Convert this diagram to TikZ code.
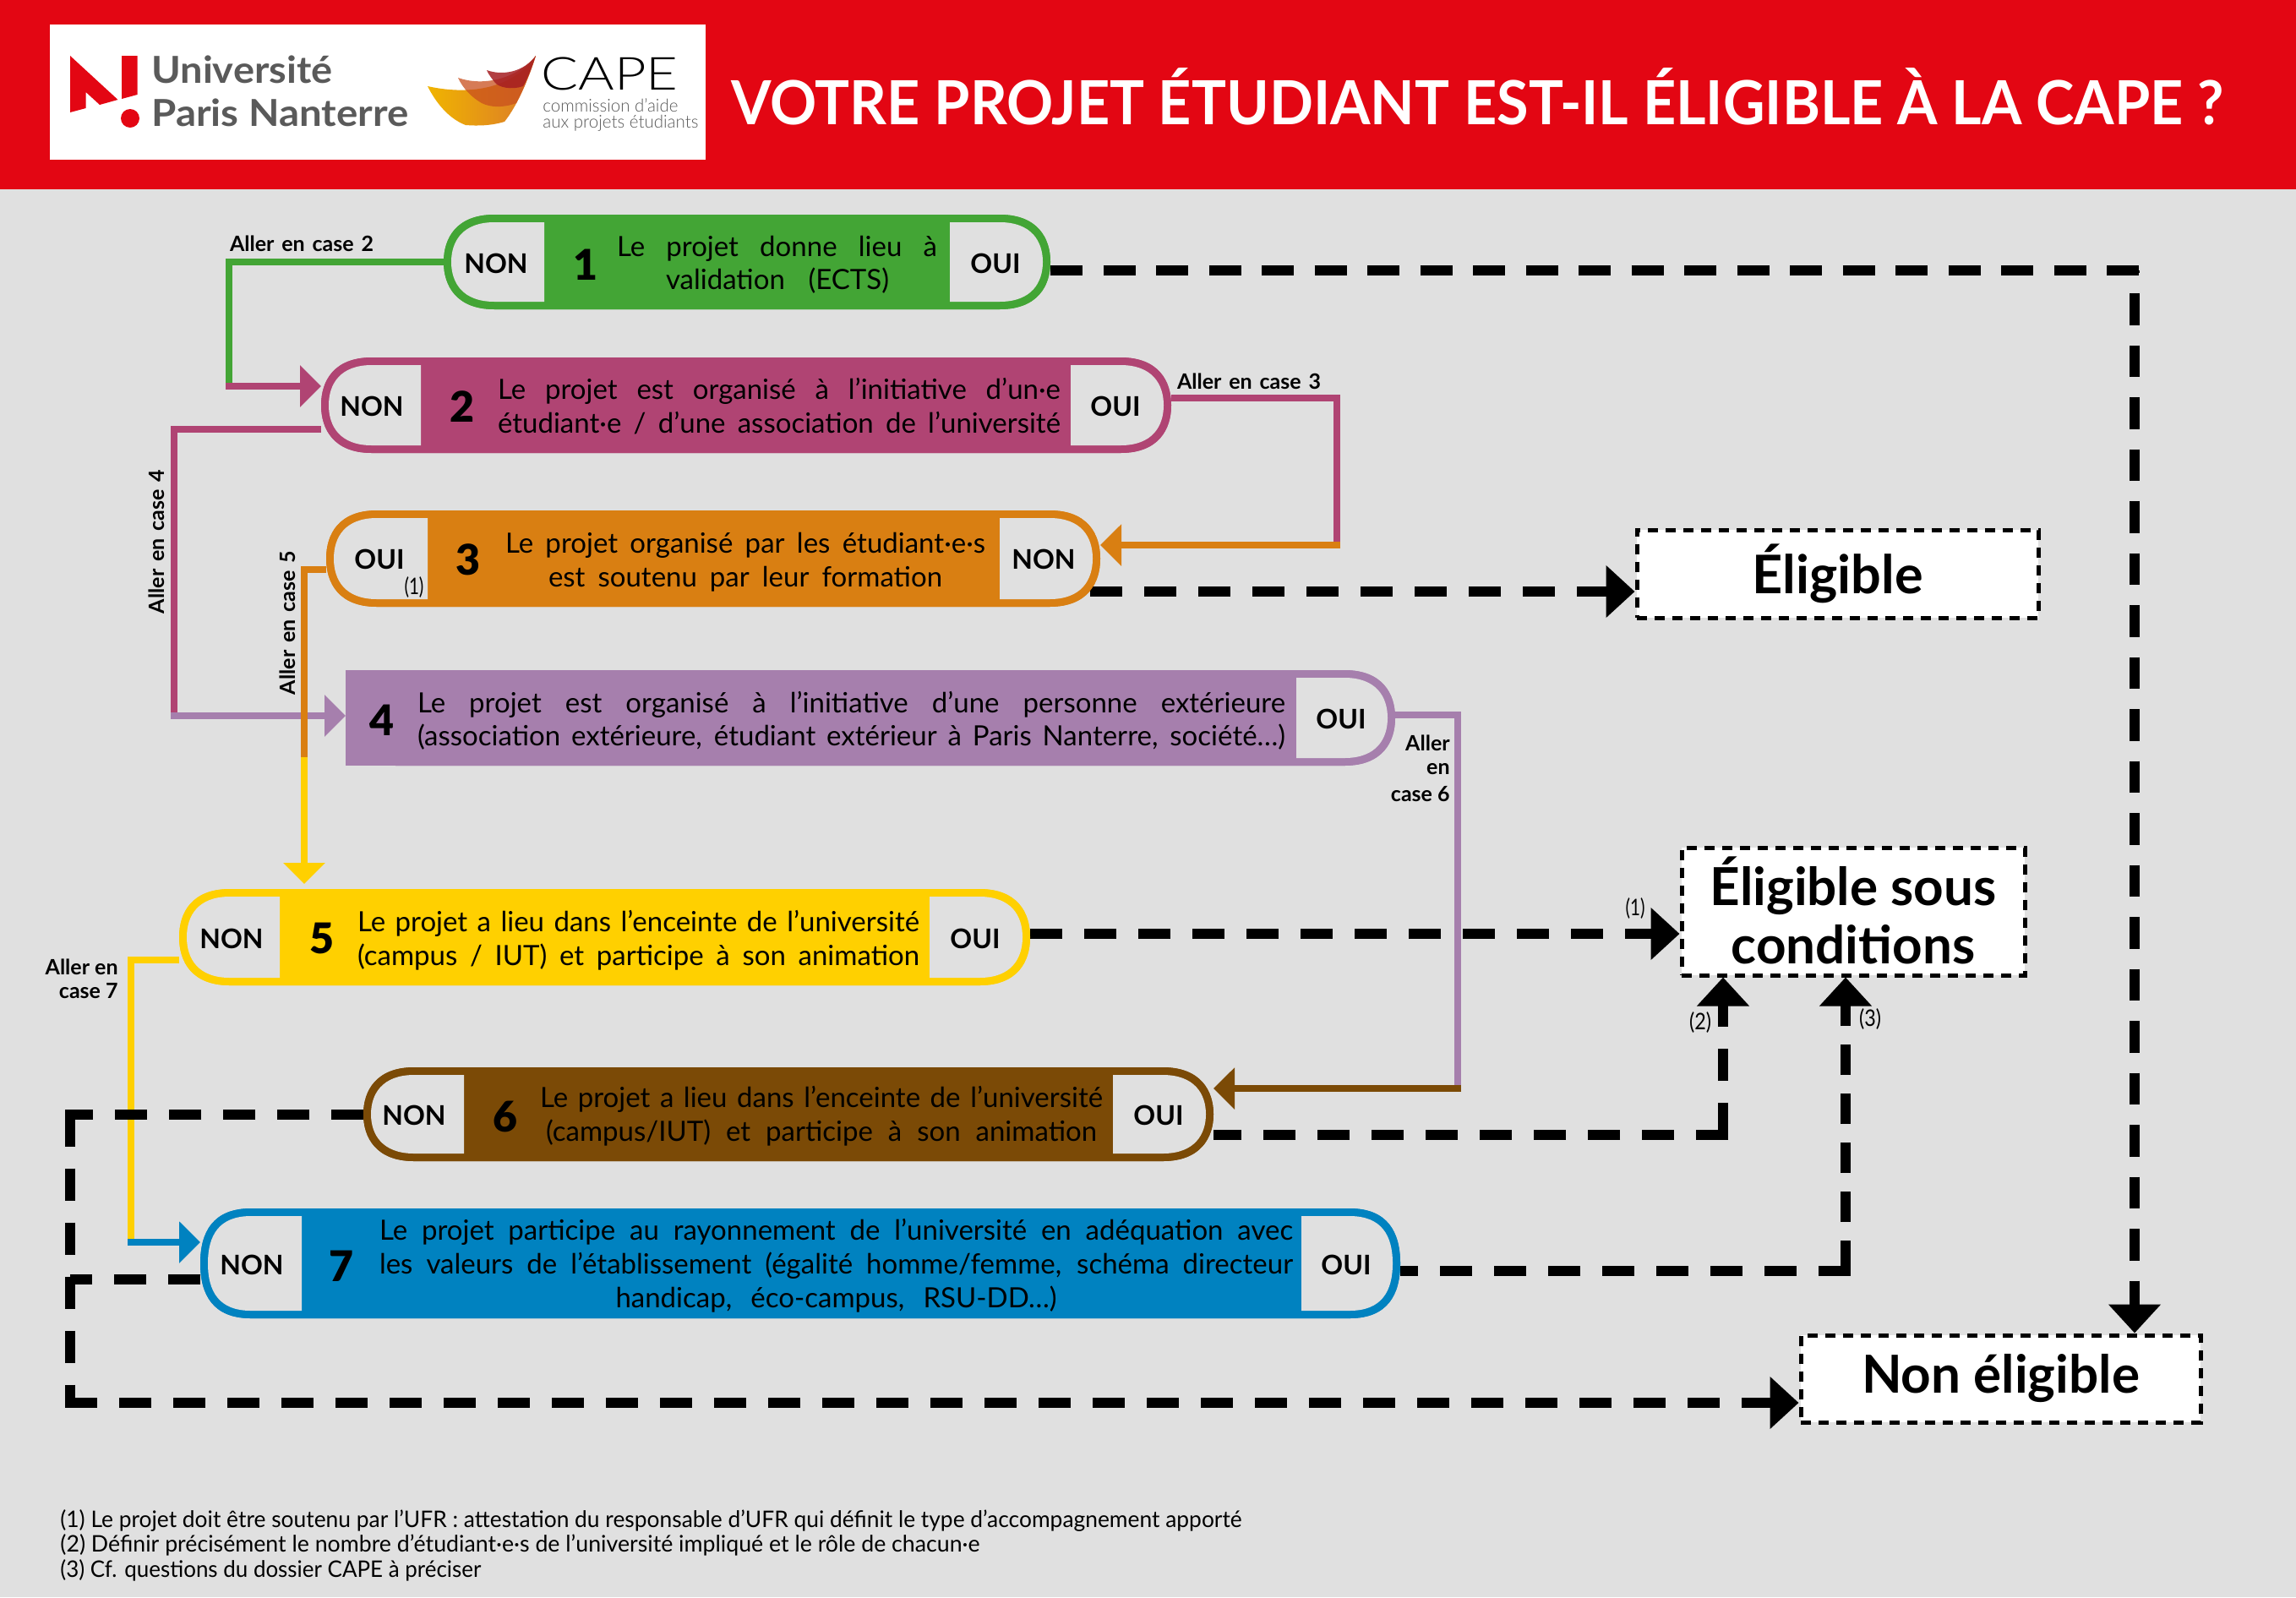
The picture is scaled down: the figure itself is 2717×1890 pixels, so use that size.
\documentclass[tikz,border=0pt]{standalone}
\usepackage{fontspec}
\setmainfont{Lato}
\newfontfamily\lightf{Lato Light}
\newfontfamily\blackf{Lato Black}
\usetikzlibrary{arrows.meta,calc}
\definecolor{bgc}{HTML}{E0E0E0}
\definecolor{redc}{HTML}{E30613}
\definecolor{gre}{HTML}{43A535}
\definecolor{mag}{HTML}{B04473}
\definecolor{ora}{HTML}{D97F12}
\definecolor{pur}{HTML}{A67FAD}
\definecolor{yel}{HTML}{FFD000}
\definecolor{bro}{HTML}{7B4A06}
\definecolor{blu}{HTML}{0082C0}
\definecolor{gry}{HTML}{5A5A5A}
\definecolor{sail1a}{HTML}{F0B400}
\definecolor{sail1b}{HTML}{DB7A2A}
\definecolor{sail2}{HTML}{C9501E}
\definecolor{sail3}{HTML}{A51E22}
\newsavebox\fitb
\newcommand\jl[2]{\sbox\fitb{#2}\ifdim\wd\fitb>#1pt\resizebox{#1pt}{\height}{\usebox\fitb}\else\makebox[#1pt][s]{#2}\fi}
\newcommand\wl[2]{\resizebox{#1pt}{\height}{#2}}
\newcommand\fz[1]{\fontsize{#1}{#1}\selectfont}
% capsule body: name, L, R, T, B, colour
\newcommand\capsbody[6]{%
  \node[inner sep=0,outer sep=0,minimum width={(#3-#2)*0.5pt},minimum height={(#5-#4)*0.5pt}] (#1) at ({(#2+#3)/2},{(#4+#5)/2}) {};
  \fill[#6] (#2+60,#4) -- (#3-60,#4) .. controls (#3-15,#4) and (#3,#4+28) .. (#3,{(#4+#5)/2}) .. controls (#3,#5-28) and (#3-15,#5) .. (#3-60,#5) -- (#2+60,#5) .. controls (#2+15,#5) and (#2,#5-28) .. (#2,{(#4+#5)/2}) .. controls (#2,#4+28) and (#2+15,#4) .. (#2+60,#4) -- cycle;}
% left panel: L, panel right, T, B
\newcommand\panL[4]{\fill[bgc] (#2,#3+9) -- (#1+60,#3+9) .. controls (#1+22,#3+9) and (#1+9,#3+32) .. (#1+9,{(#3+#4)/2}) .. controls (#1+9,#4-32) and (#1+22,#4-9) .. (#1+60,#4-9) -- (#2,#4-9) -- cycle;}
% right panel: panel left, R, T, B
\newcommand\panR[4]{\fill[bgc] (#1,#3+9) -- (#2-60,#3+9) .. controls (#2-22,#3+9) and (#2-9,#3+32) .. (#2-9,{(#3+#4)/2}) .. controls (#2-9,#4-32) and (#2-22,#4-9) .. (#2-60,#4-9) -- (#1,#4-9) -- cycle;}
\tikzset{
  x=0.5pt,y=-0.5pt,
  conn/.style={line width=4pt,draw=#1},
  carrow/.style={line width=4pt,draw=#1,-{Triangle[length=12.5pt,width=24pt]}},
  dashline/.style={line width=6pt,draw=black,dash pattern=on 19pt off 13pt},
  dashtail/.style={line width=6pt,draw=black,dash pattern=on 19pt off 12.25pt},
  darrow/.style={dashline,-{Triangle[length=17pt,width=30pt]}},
  tx/.style={anchor=base,inner sep=0,font=\fz{16.5}},
  yn/.style={anchor=base,inner sep=0,font=\fz{16}\bfseries},
  num/.style={anchor=base,inner sep=0,font=\fz{25}\blackf},
  lab/.style={inner sep=0,font=\fz{12.5}\bfseries},
  ref/.style={inner sep=0,font=\fz{13.5}},
  result/.style={draw=black,fill=white,line width=2.5pt,dash pattern=on 6pt off 4.5pt,inner sep=0,align=center,font=\fz{31}\bfseries},
  foot/.style={anchor=base west,inner sep=0,font=\fz{13.5}},
}
\begin{document}
\begin{tikzpicture}
\useasboundingbox (0,0) rectangle (2717,1890);
\fill[bgc] (0,0) rectangle (2717,1890);
\fill[redc] (0,0) rectangle (2717,224);
\fill[white] (59,29) rectangle (835,189);
% Nanterre logo
\fill[redc] (83,66) -- (139.5,118) -- (118,124) -- (101.6,109) -- (101.6,128) -- (83,133) -- cycle;
\fill[redc] (144,66) -- (162.5,66) -- (162.5,112) -- (144,117) -- cycle;
\fill[redc] (154,140) circle[radius=11];
\node[anchor=base west,inner sep=0,text=gry,font=\fz{22}\bfseries] (u1) at (179,98) {\wl{107}{Université}};
\node[anchor=base west,inner sep=0,text=gry,font=\fz{22}\bfseries] (u2) at (179,149) {\wl{152}{Paris Nanterre}};
% CAPE logo
\shade[left color=sail1a,right color=sail1b] (506,102) .. controls (550,112) and (605,108) .. (634,66) .. controls (625,95) and (612,125) .. (597,144) .. controls (580,149) and (565,149) .. (551,148) .. controls (530,140) and (515,120) .. (506,102) -- cycle;
\fill[sail2,opacity=.75] (542,92) .. controls (570,102) and (610,95) .. (634,66) .. controls (628,85) and (620,105) .. (611,122) .. controls (595,128) and (580,127) .. (570,122) .. controls (558,115) and (548,105) .. (542,92) -- cycle;
\fill[sail3,opacity=.85] (576,83) .. controls (595,90) and (620,85) .. (634,66) .. controls (630,78) and (625,92) .. (619,102) .. controls (605,107) and (590,103) .. (586,98) .. controls (582,93) and (578,88) .. (576,83) -- cycle;
\node[anchor=base west,inner sep=0,font=\fz{27}\lightf] (c1) at (640,106) {\wl{81}{CAPE}};
\node[anchor=base west,inner sep=0,text=gry,font=\fz{10.5}\lightf] (c2) at (642,132) {\jl{80}{commission d’aide}};
\node[anchor=base west,inner sep=0,text=gry,font=\fz{10.5}\lightf] (c3) at (642,151) {\jl{92}{aux projets étudiants}};
\node[anchor=base west,inner sep=0,text=white,font=\fz{36}\bfseries] (title) at (865,147) {\jl{883}{VOTRE PROJET ÉTUDIANT EST-IL ÉLIGIBLE À LA CAPE ?}};

% anchors of the boxes are created first, so connectors can refer to them
\capsbody{b1}{525}{1243}{254}{366}{gre}
\capsbody{b2}{380}{1386}{423}{536}{mag}
\capsbody{b3}{386}{1302}{604}{718}{ora}
\capsbody{b4}{409}{1651}{793}{906}{pur}
\capsbody{b5}{212}{1219}{1052}{1166}{yel}
\capsbody{b6}{430}{1436}{1263}{1374}{bro}
\capsbody{b7}{237}{1657}{1430}{1560}{blu}
\fill[pur] (409,793) rectangle (500,906);

% result boxes
\node[result,minimum width=237.5pt,minimum height=52pt,font=\fz{31.5}\bfseries] (r1) at (2174.5,679) {Éligible};
\node[result,minimum width=203pt,minimum height=75.5pt] (r2) at (2193,1078.5) {\raisebox{1.5pt}{Éligible sous}\\[3.5pt]\raisebox{1.5pt}{conditions}};
\node[result,minimum width=236.5pt,minimum height=51.5pt] (r3) at (2367.5,1631.5) {\raisebox{-3pt}{Non éligible}};

% named corners
\coordinate (g1) at (271,457);
\coordinate (m3) at (1582,471);
\coordinate (o3) at (1582,645);
\coordinate (m4) at (206,508);
\coordinate (p4) at (206,847);
\coordinate (o5) at (360,674);
\coordinate (y5) at (360,896);
\coordinate (y5t) at (360,1046);
\coordinate (p6) at (1725,847);
\coordinate (b6c) at (1725,1288);
\coordinate (y7) at (155,1136);
\coordinate (bl7) at (155,1470);
\coordinate (d1) at (2526,320);
\coordinate (d1e) at (2534,320);
\coordinate (dr1) at (1937,700);
\coordinate (dr2) at (1988,1105);
\coordinate (d6) at (2039,1343);
\coordinate (d7) at (2184,1504);
\coordinate (dl) at (83,1660);
\coordinate (dl7) at (83,1514);

% coloured connectors
\draw[conn=gre] (b1.west) -| (g1);
\draw[carrow=mag] (g1) ++(-4,0) -- (b2.west |- g1);
\draw[conn=mag] (b2.east |- m3) -- (m3) -- (o3);
\draw[carrow=ora] (o3) ++(4,0) -- (b3.east |- o3);
\draw[conn=mag] (b2.west |- m4) -- (m4) -- (p4);
\draw[carrow=pur] (p4) ++(-4,0) -- (b4.west |- p4);
\draw[conn=ora] (b3.west |- o5) -- (o5) -- (y5);
\draw[carrow=yel] (y5) -- (y5t);
\draw[conn=pur] (b4.east) ++(-4,-4) -| (p6) -- (b6c);
\draw[carrow=bro] (b6c) ++(4,0) -- (b6.east |- b6c);
\draw[conn=yel] (b5.west |- y7) -- (y7) -- (bl7);
\draw[carrow=blu] (bl7) ++(-4,0) -- (b7.west |- bl7);

% dashed connectors
\draw[dashtail] (b1.east |- d1) -- (d1e);
\draw[darrow,dash pattern=on 18.75pt off 12pt,dash phase=17.25pt] (d1) -- (d1 |- r3.north);
\draw[darrow] ($(b3.east |- dr1)+(-12,0)$) -- (r1.west |- dr1);
\draw[darrow] (b5.east |- dr2) -- (r2.west |- dr2);
\draw[dashline] (d6) ++(6,0) -- (b6.east |- d6);
\draw[darrow] (d6) -- (d6 |- r2.south);
\draw[dashline] (d7) ++(6,0) -- (b7.east |- d7);
\draw[darrow,dash pattern=on 18pt off 11pt] (d7) -- (d7 |- r2.south);
\draw[dashline] (b6.west) -- ($(b6.west -| dl)+(-6,0)$);
\draw[dashline] (b6.west -| dl) -- (dl);
\draw[darrow] ($(dl)+(-6,0)$) -- (r3.west |- dl);
\draw[dashline] (b7.west |- dl7) -- (dl7);

% boxes on top of the connector starts
\capsbody{b1v}{525}{1243}{254}{366}{gre}
\capsbody{b2v}{380}{1386}{423}{536}{mag}
\capsbody{b3v}{386}{1302}{604}{718}{ora}
\capsbody{b4v}{409}{1651}{793}{906}{pur}
\fill[pur] (409,793) rectangle (500,906);
\capsbody{b5v}{212}{1219}{1052}{1166}{yel}
\capsbody{b6v}{430}{1436}{1263}{1374}{bro}
\capsbody{b7v}{237}{1657}{1430}{1560}{blu}
\panL{525}{644}{254}{366}\panR{1124}{1243}{254}{366}
\panL{380}{498}{423}{536}\panR{1267}{1386}{423}{536}
\panL{386}{506}{604}{718}\panR{1183}{1302}{604}{718}
\panR{1534}{1651}{793}{906}
\panL{212}{331}{1052}{1166}\panR{1100}{1219}{1052}{1166}
\panL{430}{549}{1263}{1374}\panR{1317}{1436}{1263}{1374}
\panL{237}{357}{1430}{1560}\panR{1540}{1657}{1430}{1560}

% box 1
\node[yn] (n1) at (587,323) {NON};
\node[num] (k1) at (693,331) {1};
\node[tx] (t1a) at (919.5,303) {\jl{189.5}{Le projet donne lieu à}};
\node[tx] (t1b) at (920,342) {\jl{132}{validation (ECTS)}};
\node[yn] (o1) at (1178,323) {OUI};
% box 2
\node[yn] (n2) at (440,492) {NON};
\node[num] (k2) at (547,499) {2};
\node[tx] (t2a) at (922,472) {\jl{333}{Le projet est organisé à l’initiative d’un·e}};
\node[tx] (t2b) at (922,512) {\jl{333}{étudiant·e / d’une association de l’université}};
\node[yn] (o2) at (1320,492) {OUI};
% box 3
\node[yn] (o3t) at (449,673) {OUI};
\node[ref,anchor=base] (f3) at (490,703) {\wl{11.5}{(1)}};
\node[num] (k3) at (554,680) {3};
\node[tx] (t3a) at (882,654) {\jl{284}{Le projet organisé par les étudiant·e·s}};
\node[tx] (t3b) at (882,694) {\jl{233}{est soutenu par leur formation}};
\node[yn] (n3) at (1235,673) {NON};
% box 4
\node[num] (k4) at (452,870) {4};
\node[tx] (t4a) at (1007.5,843) {\jl{513.5}{Le projet est organisé à l’initiative d’une personne extérieure}};
\node[tx] (t4b) at (1007.5,882) {\jl{513.5}{(association extérieure, étudiant extérieur à Paris Nanterre, société…)}};
\node[yn] (o4) at (1587,862) {OUI};
% box 5
\node[yn] (n5) at (274,1122) {NON};
\node[num] (k5) at (381,1128) {5};
\node[tx] (t5a) at (755.5,1102) {\jl{332.5}{Le projet a lieu dans l’enceinte de l’université}};
\node[tx] (t5b) at (755.5,1142) {\jl{332.5}{(campus / IUT) et participe à son animation}};
\node[yn] (o5t) at (1154,1122) {OUI};
% box 6
\node[yn] (n6) at (490,1331) {NON};
\node[num] (k6) at (598,1339) {6};
\node[tx] (t6a) at (972,1310) {\jl{333}{Le projet a lieu dans l’enceinte de l’université}};
\node[tx] (t6b) at (972,1350) {\jl{326}{(campus/IUT) et participe à son animation}};
\node[yn] (o6) at (1371,1331) {OUI};
% box 7
\node[yn] (n7) at (298,1508) {NON};
\node[num] (k7) at (404,1516) {7};
\node[tx] (t7a) at (989.5,1467) {\jl{540.5}{Le projet participe au rayonnement de l’université en adéquation avec}};
\node[tx] (t7b) at (989.5,1507) {\jl{540.5}{les valeurs de l’établissement (égalité homme/femme, schéma directeur}};
\node[tx] (t7c) at (989.5,1547) {\jl{261}{handicap, éco-campus, RSU-DD…)}};
\node[yn] (o7) at (1593,1508) {OUI};

% connector labels
\node[lab] (l2) at (357,288) {\jl{85}{Aller en case 2}};
\node[lab] (l3) at (1478,451) {\jl{85}{Aller en case 3}};
\node[lab,rotate=90] (l4) at (185,641) {\jl{85}{Aller en case 4}};
\node[lab,rotate=90] (l5) at (340,737) {\jl{85}{Aller en case 5}};
\node[lab,anchor=east] (l6a) at (1716,879) {Aller};
\node[lab,anchor=east] (l6b) at (1716,910) {en};
\node[lab,anchor=east] (l6c) at (1716,940) {case 6};
\node[lab,anchor=east] (l7a) at (140,1144) {Aller en};
\node[lab,anchor=east] (l7b) at (140,1173) {case 7};
\node[ref] (f1) at (1935,1075) {\wl{11.5}{(1)}};
\node[ref] (f2) at (2012,1210) {\wl{13}{(2)}};
\node[ref] (f3b) at (2213,1206) {\wl{13}{(3)}};

% footnotes
\node[foot] (fn1) at (71,1807) {\jl{699}{(1) Le projet doit être soutenu par l’UFR : attestation du responsable d’UFR qui définit le type d’accompagnement apporté}};
\node[foot] (fn2) at (71,1836) {\jl{544}{(2) Définir précisément le nombre d’étudiant·e·s de l’université impliqué et le rôle de chacun·e}};
\node[foot] (fn3) at (71,1866) {\jl{249}{(3) Cf. questions du dossier CAPE à préciser}};
\end{tikzpicture}
\end{document}
